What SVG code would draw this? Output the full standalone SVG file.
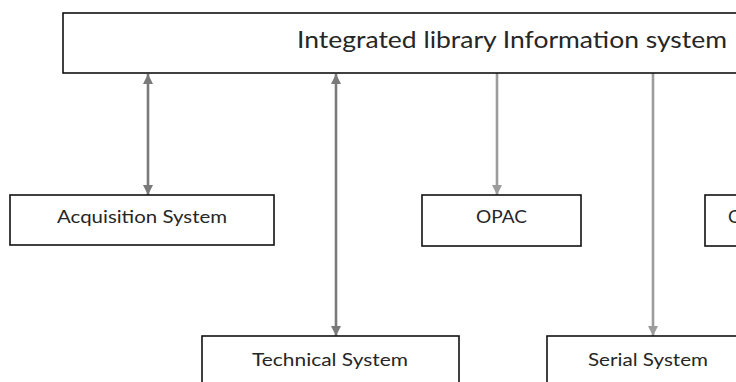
<svg xmlns="http://www.w3.org/2000/svg" width="736" height="382" viewBox="0 0 736 382">
<style>
.box{fill:#fff;stroke:#111;stroke-width:1.6}
.lbl{font-family:Lato,"Open Sans","Liberation Sans",sans-serif;fill:#262626}
.t{font-size:24px}
.s{font-size:18px}
.dk{stroke:#7a7a7a;stroke-width:2.6;fill:none}
.lt{stroke:#9c9c9c;stroke-width:2.6;fill:none}
</style>
<defs>
<marker id="ad" markerUnits="userSpaceOnUse" viewBox="0 0 10 10" refX="10" refY="5" markerWidth="10" markerHeight="10" orient="auto-start-reverse">
<path d="M0,0 L10,5 L0,10 Z" fill="#7a7a7a"/>
</marker>
<marker id="al" markerUnits="userSpaceOnUse" viewBox="0 0 10 10" refX="10" refY="5" markerWidth="10" markerHeight="10" orient="auto">
<path d="M0,0 L10,5 L0,10 Z" fill="#9c9c9c"/>
</marker>
</defs>
<rect width="736" height="382" fill="#fff"/>
<g id="connectors">
<line class="dk" x1="148" y1="74" x2="148" y2="195" marker-start="url(#ad)" marker-end="url(#ad)"/>
<line class="dk" x1="336" y1="74" x2="336" y2="336" marker-start="url(#ad)" marker-end="url(#ad)"/>
<line class="lt" x1="497" y1="73" x2="497" y2="195" marker-end="url(#al)"/>
<line class="lt" x1="653" y1="73" x2="653" y2="336" marker-end="url(#al)"/>
</g>
<g id="ils">
<rect class="box" x="63" y="13" width="700" height="60"/>
<text class="lbl t" x="297" y="48" textLength="430" lengthAdjust="spacingAndGlyphs">Integrated library Information system</text>
</g>
<g id="acquisition">
<rect class="box" x="10" y="195" width="264" height="50"/>
<text class="lbl s" x="57" y="223" textLength="170" lengthAdjust="spacingAndGlyphs">Acquisition System</text>
</g>
<g id="opac">
<rect class="box" x="422" y="195" width="159" height="51"/>
<text class="lbl s" x="476" y="223" textLength="51" lengthAdjust="spacingAndGlyphs">OPAC</text>
</g>
<g id="circ">
<rect class="box" x="705" y="195" width="100" height="51"/>
<text class="lbl s" x="728" y="223">C</text>
</g>
<g id="technical">
<rect class="box" x="202" y="336" width="257" height="60"/>
<text class="lbl s" x="252" y="366" textLength="156" lengthAdjust="spacingAndGlyphs">Technical System</text>
</g>
<g id="serial">
<rect class="box" x="547" y="336" width="210" height="60"/>
<text class="lbl s" x="588" y="366" textLength="120" lengthAdjust="spacingAndGlyphs">Serial System</text>
</g>
</svg>
